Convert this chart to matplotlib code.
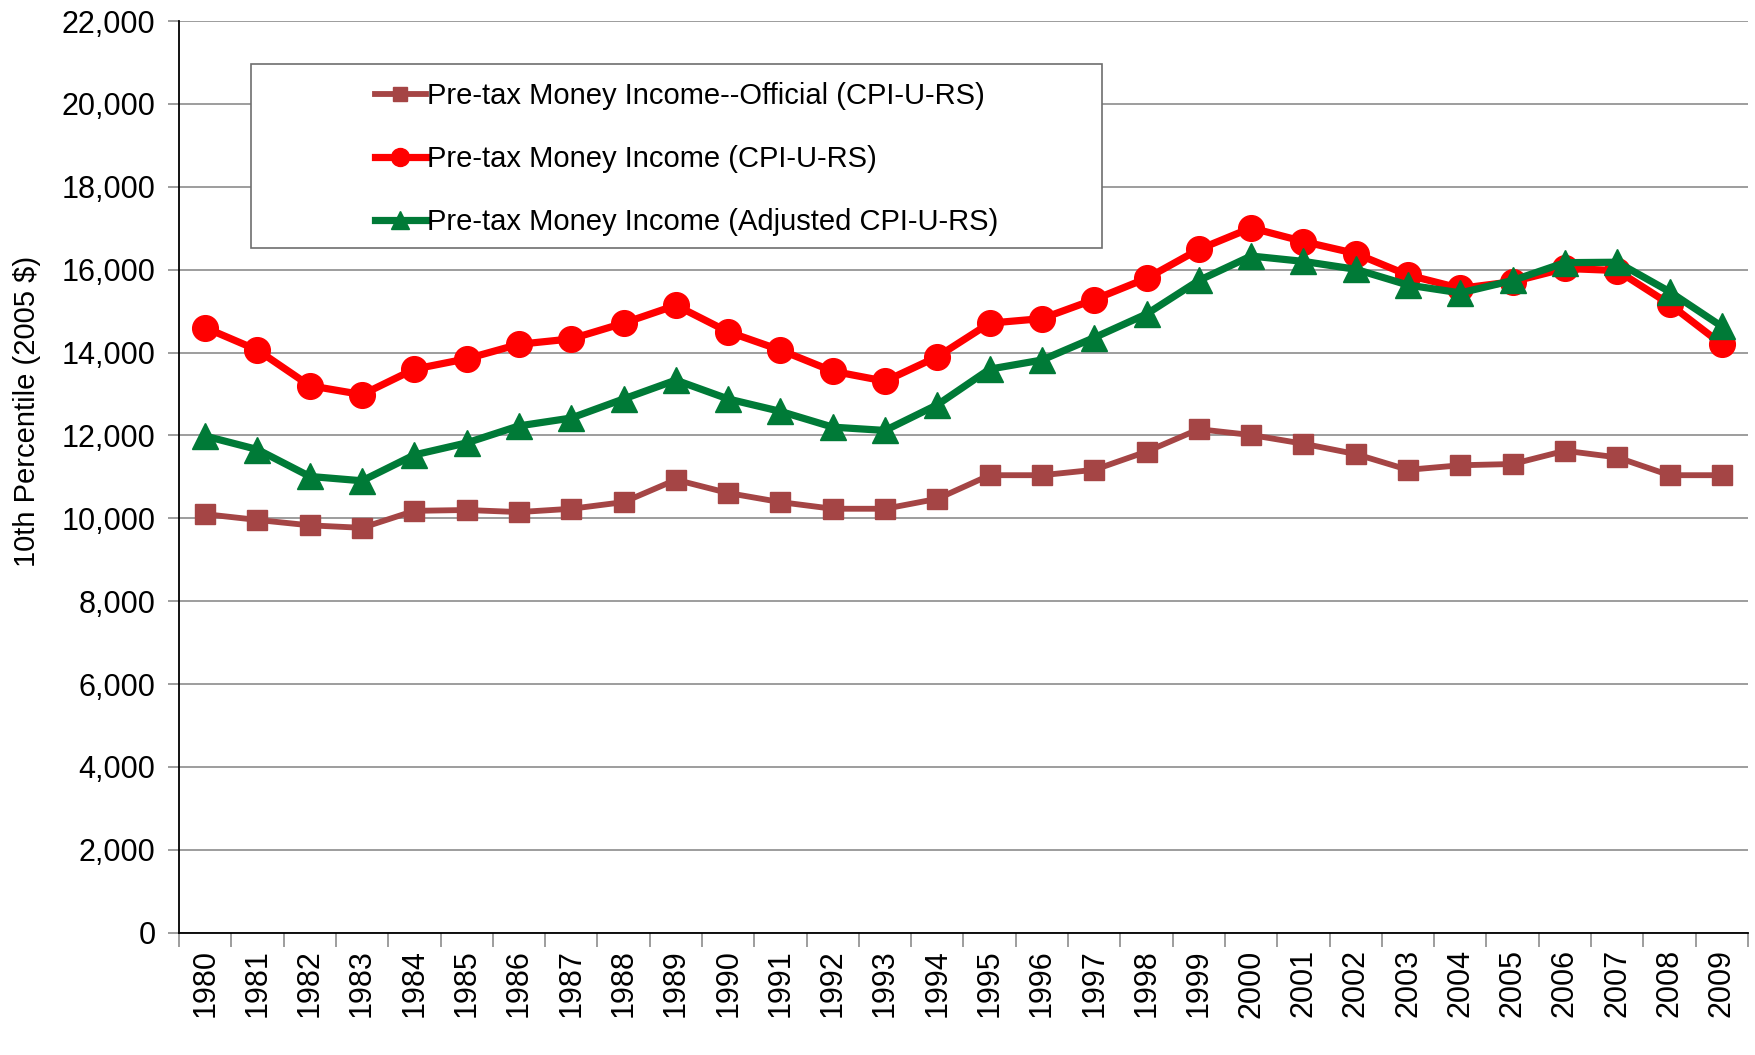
import numpy as np
import matplotlib
matplotlib.use("Agg")
import matplotlib.pyplot as plt
from matplotlib.patches import Rectangle
from matplotlib.ticker import FuncFormatter, FixedLocator

plt.rcParams['font.family'] = ['Liberation Sans', 'DejaVu Sans']

years = list(range(1980, 2010))

official = [10100, 9960, 9830, 9770, 10180, 10200, 10150, 10230, 10390, 10930,
            10610, 10390, 10230, 10230, 10470, 11040, 11040, 11170, 11610, 12150,
            12010, 11800, 11550, 11170, 11280, 11310, 11630, 11470, 11040, 11040]
cpi_urs = [14600, 14060, 13200, 12985, 13600, 13850, 14200, 14330, 14710, 15140,
           14500, 14060, 13550, 13310, 13900, 14710, 14820, 15280, 15790, 16490,
           17010, 16680, 16390, 15870, 15550, 15710, 16030, 15980, 15170, 14200]
adj_cpi = [11985, 11660, 11010, 10905, 11530, 11820, 12230, 12420, 12880, 13335,
           12880, 12580, 12200, 12120, 12740, 13600, 13820, 14360, 14930, 15740,
           16330, 16200, 16010, 15630, 15440, 15740, 16170, 16180, 15470, 14630]

labels = ['Pre-tax Money Income--Official (CPI-U-RS)',
          'Pre-tax Money Income (CPI-U-RS)',
          'Pre-tax Money Income (Adjusted CPI-U-RS)']

fig = plt.figure(figsize=(17.55, 10.55), dpi=100)
ax = fig.add_axes([0.102, 0.116, 0.894, 0.864])

x = np.arange(len(years))
l1, = ax.plot(x, official, color='#A54545', lw=4.2, marker='s', ms=14, zorder=3)
l2, = ax.plot(x, cpi_urs, color='#FF0000', lw=5.2, marker='o', ms=18.5, zorder=3)
l3, = ax.plot(x, adj_cpi, color='#007A37', lw=5.2, marker='^', ms=18.5, zorder=4)

ax.set_xlim(-0.5, len(years) - 0.5)
ax.set_ylim(0, 22000)
ax.set_yticks(np.arange(0, 22001, 2000))
ax.yaxis.set_major_formatter(FuncFormatter(lambda v, p: f'{int(v):,}'))
ax.grid(axis='y', color='#8C8C8C', lw=1.2, zorder=0)

ax.set_xticks(x)
ax.set_xticklabels([str(y) for y in years], rotation=90)
ax.xaxis.set_minor_locator(FixedLocator(np.arange(-0.5, len(years), 1)))
ax.tick_params(axis='x', which='major', length=0, pad=12, labelsize=22)
ax.tick_params(axis='x', which='minor', length=10, color='#8C8C8C', width=1.2)
ax.tick_params(axis='y', length=8, color='#8C8C8C', width=1.2, labelsize=22, pad=9)

for s in ['top', 'right']:
    ax.spines[s].set_visible(False)
ax.spines['left'].set_linewidth(1.3)
ax.spines['bottom'].set_linewidth(1.3)

ax.set_ylabel('10th Percentile (2005 $)', fontsize=21)
ax.yaxis.set_label_coords(-0.088, 0.572)

# legend box drawn separately, legend itself frameless
ax.add_patch(Rectangle((0.046, 0.751), 0.542, 0.202, transform=ax.transAxes,
                       fill=True, facecolor='white', edgecolor='#6E6E6E', lw=1.2, zorder=5))
leg = ax.legend([l1, l2, l3], labels, loc='upper left', bbox_to_anchor=(0.108, 0.962),
                frameon=False, fontsize=21, handlelength=1.75, handletextpad=0.05,
                labelspacing=1.2, markerscale=0.7)
leg.set_zorder(6)

fig.savefig('out.png', dpi=100)
